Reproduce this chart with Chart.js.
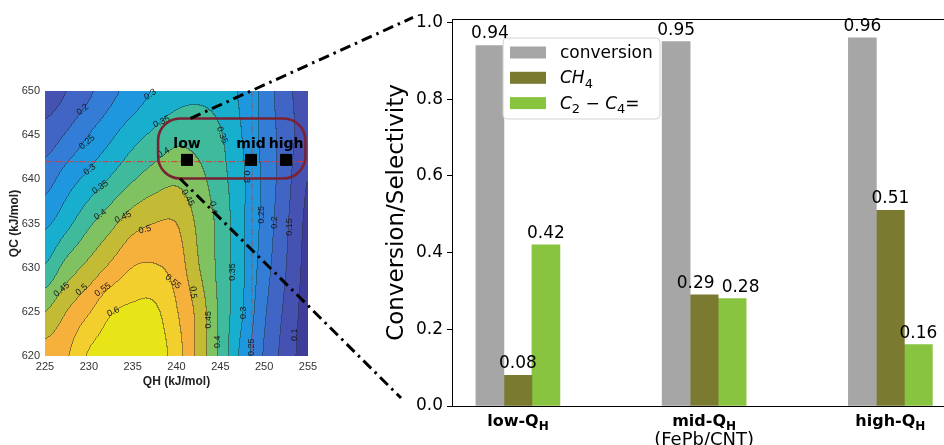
<!DOCTYPE html>
<html>
<head>
<meta charset="utf-8">
<script src="https://cdn.jsdelivr.net/npm/chart.js@4.4.1/dist/chart.umd.min.js"></script>
<style>
  html, body { margin: 0; padding: 0; background: #fff; }
  #wrap { position: relative; width: 944px; height: 445px; overflow: hidden; }
  #mapBox { position: absolute; left: 0; top: 0; width: 360px; height: 445px; }
  #barBox { position: absolute; left: 360px; top: 0; width: 584px; height: 445px; }
  #overlay { position: absolute; left: 0; top: 0; pointer-events: none; }
</style>
</head>
<body>
<div id="wrap">
  <div id="mapBox"><canvas id="mapChart"></canvas></div>
  <div id="barBox"><canvas id="barChart"></canvas></div>
  <canvas id="overlay" width="944" height="445"></canvas>
</div>
<script>
// ---- bar chart data ----
const categories = ['low-Q_H', 'mid-Q_H', 'high-Q_H'];
const categoryNotes = ['', '(FePb/CNT)', ''];
const seriesNames = ['conversion', 'CH_4', 'C_2 − C_4='];
const conversion = [0.94, 0.95, 0.96];
const ch4Selectivity = [0.08, 0.29, 0.51];
const c2c4Selectivity = [0.42, 0.28, 0.16];
const yTicks = [0, 0.2, 0.4, 0.6, 0.8, 1.0];

// ---- contour map data (QH x QC grid) ----
const qhGrid = [225, 227.5, 230, 232.5, 235, 237.5, 240, 242.5, 245, 247.5, 250, 252.5, 255];
const qcGrid = [620, 625, 630, 635, 640, 645, 650];
const mapValues = [
  [0.52, 0.545, 0.605, 0.625, 0.635, 0.63, 0.575, 0.485, 0.39, 0.285, 0.197, 0.13, 0.075],
  [0.45, 0.50, 0.545, 0.595, 0.61, 0.61, 0.555, 0.485, 0.39, 0.305, 0.21, 0.14, 0.08],
  [0.355, 0.42, 0.465, 0.51, 0.55, 0.555, 0.53, 0.455, 0.385, 0.31, 0.225, 0.152, 0.085],
  [0.29, 0.335, 0.39, 0.435, 0.48, 0.50, 0.50, 0.44, 0.385, 0.31, 0.235, 0.16, 0.09],
  [0.228, 0.275, 0.315, 0.355, 0.395, 0.425, 0.44, 0.415, 0.37, 0.31, 0.24, 0.17, 0.10],
  [0.17, 0.205, 0.25, 0.29, 0.33, 0.36, 0.385, 0.38, 0.355, 0.30, 0.235, 0.175, 0.12],
  [0.12, 0.15, 0.19, 0.235, 0.27, 0.305, 0.33, 0.34, 0.33, 0.29, 0.235, 0.165, 0.13]
];
const contourLevels = [0.1, 0.15, 0.2, 0.25, 0.3, 0.35, 0.4, 0.45, 0.5, 0.55, 0.6];
const qhTicks = [225, 230, 235, 240, 245, 250, 255];
const qcTicks = [620, 625, 630, 635, 640, 645, 650];
const markerNames = ['low', 'mid', 'high'];
const markerQH = [241.2, 248.5, 252.5];
const markerQC = [642.2, 642.2, 642.2];
const selectedQH = 248.6;
const selectedQC = 642;
// contour labels: [QH, QC, text, angle]
const contourLabels = [
  [237.0, 649.6, '0.3', -35], [229.3, 647.9, '0.2', -40], [238.3, 646.5, '0.35', -25],
  [229.8, 644.2, '0.25', -40], [238.5, 643.0, '0.4', -30], [245.2, 645.0, '0.35', 70],
  [230.1, 641.1, '0.3', -38], [248.0, 640.3, '0.3', 90], [231.3, 639.1, '0.35', -35],
  [241.3, 637.9, '0.45', 60], [244.2, 636.8, '0.4', 80], [231.3, 636.0, '0.4', -35],
  [233.9, 635.7, '0.45', -25], [249.7, 636.0, '0.25', -90], [251.2, 635.1, '0.2', -90],
  [252.9, 634.6, '0.15', -90], [236.4, 634.3, '0.5', -12], [246.4, 629.5, '0.35', -90],
  [239.6, 628.4, '0.55', 40], [241.9, 627.2, '0.5', 85], [226.9, 627.5, '0.45', -40],
  [229.2, 627.5, '0.5', -40], [231.6, 627.5, '0.55', -35], [232.8, 625.0, '0.6', -25],
  [247.6, 624.9, '0.3', -90], [243.6, 624.1, '0.45', -90], [253.5, 622.4, '0.1', -90],
  [244.7, 621.6, '0.4', -90], [248.6, 621.0, '0.25', -90]
];

const bandColors = ['#3f3d9b', '#4652b1', '#4065c5', '#337dd6', '#1e97df', '#18afcf',
  '#3fba9c', '#80c262', '#c3ba35', '#f5b13c', '#f3cf2e', '#e7e418'];
const barColors = ['#a6a6a6', '#7a7a31', '#88c440'];
const FONT = '"DejaVu Sans"';
const MFONT = '"Liberation Sans"';

// rich text: '_x' makes x a subscript
function richParts(label, size, bold, italic) {
  const parts = [];
  for (let i = 0; i < label.length; i++) {
    const ch = label[i];
    if (ch === '_') {
      parts.push({ t: label[i + 1], sub: true });
      i++;
    } else {
      parts.push({ t: ch, sub: false });
    }
  }
  return parts.map(p => {
    const sz = p.sub ? Math.round(size * 0.74) : size;
    const it = italic && /[A-Za-z]/.test(p.t) ? 'italic ' : '';
    return { t: p.t, font: it + (bold ? 'bold ' : '') + sz + 'px ' + FONT, dy: p.sub ? size * 0.26 : 0 };
  });
}
function richWidth(ctx, parts) {
  let w = 0;
  parts.forEach(p => { ctx.font = p.font; w += ctx.measureText(p.t).width; });
  return w;
}
function drawRich(ctx, parts, x, y) {
  ctx.textAlign = 'left';
  ctx.textBaseline = 'alphabetic';
  parts.forEach(p => {
    ctx.font = p.font;
    ctx.fillText(p.t, x, y + p.dy);
    x += ctx.measureText(p.t).width;
  });
}

// Catmull-Rom interpolation of the grid
function cubic(p0, p1, p2, p3, t) {
  return p1 + 0.5 * t * (p2 - p0 + t * (2 * p0 - 5 * p1 + 4 * p2 - p3 + t * (3 * (p1 - p2) + p3 - p0)));
}
function fieldAt(qh, qc) {
  const fx = (qh - qhGrid[0]) / (qhGrid[1] - qhGrid[0]);
  const fy = (qc - qcGrid[0]) / (qcGrid[1] - qcGrid[0]);
  const ix = Math.max(0, Math.min(Math.floor(fx), qhGrid.length - 2));
  const iy = Math.max(0, Math.min(Math.floor(fy), qcGrid.length - 2));
  const tx = fx - ix, ty = fy - iy;
  const row = r => {
    const R = mapValues[Math.max(0, Math.min(qcGrid.length - 1, r))];
    const g = c => R[Math.max(0, Math.min(R.length - 1, c))];
    return cubic(g(ix - 1), g(ix), g(ix + 1), g(ix + 2), tx);
  };
  return cubic(row(iy - 1), row(iy), row(iy + 1), row(iy + 2), ty);
}
function hexRgb(h) {
  return [parseInt(h.slice(1, 3), 16), parseInt(h.slice(3, 5), 16), parseInt(h.slice(5, 7), 16)];
}

const contourPlugin = {
  id: 'contourField',
  beforeDatasetsDraw(chart) {
    const { ctx, chartArea: a, scales: { x, y } } = chart;
    const w = Math.round(a.right - a.left), h = Math.round(a.bottom - a.top);
    const off = document.createElement('canvas');
    off.width = w; off.height = h;
    const octx = off.getContext('2d');
    const img = octx.createImageData(w, h);
    const bands = new Int16Array(w * h);
    for (let j = 0; j < h; j++) {
      const qc = y.getValueForPixel(a.top + j + 0.5);
      for (let i = 0; i < w; i++) {
        const v = fieldAt(x.getValueForPixel(a.left + i + 0.5), qc);
        let b = 0;
        while (b < contourLevels.length && v >= contourLevels[b]) b++;
        bands[j * w + i] = b;
      }
    }
    const rgb = bandColors.map(hexRgb);
    for (let j = 0; j < h; j++) {
      for (let i = 0; i < w; i++) {
        const k = j * w + i;
        const c = rgb[bands[k]];
        const edge = (i < w - 1 && bands[k + 1] !== bands[k]) || (j < h - 1 && bands[k + w] !== bands[k]);
        const f = edge ? 0.55 : 1;
        img.data[k * 4] = c[0] * f + 30 * (1 - f);
        img.data[k * 4 + 1] = c[1] * f + 30 * (1 - f);
        img.data[k * 4 + 2] = c[2] * f + 30 * (1 - f);
        img.data[k * 4 + 3] = 255;
      }
    }
    octx.putImageData(img, 0, 0);
    ctx.drawImage(off, a.left, a.top);

    ctx.save();
    // contour labels
    ctx.fillStyle = '#1a1a1a';
    ctx.font = '9px ' + MFONT;
    ctx.textAlign = 'center';
    ctx.textBaseline = 'middle';
    contourLabels.forEach(([qh, qc, t, ang]) => {
      ctx.save();
      ctx.translate(x.getPixelForValue(qh), y.getPixelForValue(qc));
      ctx.rotate(ang * Math.PI / 180);
      ctx.fillText(t, 0, 0);
      ctx.restore();
    });
    // red dash-dot guide lines
    ctx.strokeStyle = '#d83a3a';
    ctx.lineWidth = 1;
    ctx.setLineDash([6, 2, 1.5, 2]);
    const gy = y.getPixelForValue(selectedQC), gx = x.getPixelForValue(selectedQH);
    ctx.beginPath();
    ctx.moveTo(a.left, gy); ctx.lineTo(a.right, gy);
    ctx.moveTo(gx, a.top); ctx.lineTo(gx, a.bottom);
    ctx.stroke();
    ctx.restore();
  },
  afterDatasetsDraw(chart) {
    const { ctx, scales: { x, y } } = chart;
    ctx.save();
    // rounded selection box
    const x0 = x.getPixelForValue(237.9), x1 = x.getPixelForValue(254.7);
    const y0 = y.getPixelForValue(646.9), y1 = y.getPixelForValue(640.1);
    const r = 22;
    ctx.strokeStyle = '#7a2232';
    ctx.lineWidth = 2.5;
    ctx.beginPath();
    ctx.moveTo(x0 + r, y0);
    ctx.arcTo(x1, y0, x1, y1, r);
    ctx.arcTo(x1, y1, x0, y1, r);
    ctx.arcTo(x0, y1, x0, y0, r);
    ctx.arcTo(x0, y0, x1, y0, r);
    ctx.closePath();
    ctx.stroke();
    // marker names
    ctx.fillStyle = '#000';
    ctx.font = 'bold 14px ' + FONT;
    ctx.textAlign = 'center';
    ctx.textBaseline = 'alphabetic';
    markerNames.forEach((n, i) => {
      ctx.fillText(n, x.getPixelForValue(markerQH[i]), y.getPixelForValue(markerQC[i]) - 12);
    });
    ctx.restore();
  }
};

const mapChart = new Chart(document.getElementById('mapChart'), {
  type: 'scatter',
  data: {
    datasets: [{
      data: markerQH.map((q, i) => ({ x: q, y: markerQC[i] })),
      pointStyle: 'rect',
      radius: 8.5,
      backgroundColor: '#000',
      borderWidth: 0
    }]
  },
  options: {
    animation: false,
    responsive: true,
    maintainAspectRatio: false,
    layout: { padding: { top: 91, right: 52, left: 0, bottom: 0 } },
    plugins: { legend: { display: false }, tooltip: { enabled: false } },
    scales: {
      x: {
        type: 'linear', min: 225, max: 255,
        afterBuildTicks: s => { s.ticks = qhTicks.map(v => ({ value: v })); },
        afterFit: s => { s.height = 89; },
        grid: { display: false, drawTicks: false },
        border: { display: false },
        ticks: { font: { family: 'Liberation Sans', size: 11 }, color: '#333', padding: 4 },
        title: { display: true, text: 'QH (kJ/mol)', color: '#222',
          font: { family: 'Liberation Sans', size: 12, weight: 'bold' }, padding: { top: 0, bottom: 56 } }
      },
      y: {
        type: 'linear', min: 620, max: 650,
        afterBuildTicks: s => { s.ticks = qcTicks.map(v => ({ value: v })); },
        afterFit: s => { s.width = 45; },
        grid: { display: false, drawTicks: false },
        border: { display: false },
        ticks: { font: { family: 'Liberation Sans', size: 11 }, color: '#333', padding: 5 },
        title: { display: true, text: 'QC (kJ/mol)', color: '#222',
          font: { family: 'Liberation Sans', size: 12, weight: 'bold' }, padding: { top: 7, bottom: 0 } }
      }
    }
  },
  plugins: [contourPlugin]
});

const barDecor = {
  id: 'barDecor',
  afterDraw(chart) {
    const { ctx, chartArea: a, scales: { x } } = chart;
    ctx.save();
    // top spine
    ctx.strokeStyle = '#000';
    ctx.lineWidth = 1;
    ctx.beginPath();
    ctx.moveTo(a.left, a.top + 0.5); ctx.lineTo(a.right, a.top + 0.5);
    ctx.stroke();
    // value labels, nudged apart where neighbours would collide
    ctx.fillStyle = '#000';
    ctx.font = '17px ' + FONT;
    ctx.textAlign = 'center';
    ctx.textBaseline = 'alphabetic';
    categories.forEach((c, i) => {
      const labels = chart.data.datasets.map((ds, di) => {
        const bar = chart.getDatasetMeta(di).data[i];
        const t = ds.data[i].y.toFixed(2);
        return { t, x: bar.x, y: bar.y - 7, w: ctx.measureText(t).width };
      });
      for (let k = 1; k < labels.length; k++) {
        const p = labels[k - 1], q = labels[k];
        const overlap = (p.x + p.w / 2 + 7) - (q.x - q.w / 2);
        if (Math.abs(p.y - q.y) < 16 && overlap > 0) {
          p.x -= overlap / 2;
          q.x += overlap / 2;
        }
      }
      labels.forEach(l => ctx.fillText(l.t, l.x, l.y));
    });
    // category labels
    categories.forEach((c, i) => {
      const cx = x.getPixelForValue(i);
      const parts = richParts(c, 16, true, false);
      drawRich(ctx, parts, cx - richWidth(ctx, parts) / 2, a.bottom + 20);
      if (categoryNotes[i]) {
        ctx.font = '18px ' + FONT;
        ctx.textAlign = 'center';
        ctx.fillText(categoryNotes[i], cx, a.bottom + 39);
      }
    });
    // legend
    const lx = a.left + 51, ly = a.top + 19, lw = 157, lh = 81, r = 4;
    ctx.fillStyle = 'rgba(255,255,255,0.85)';
    ctx.strokeStyle = '#d4d4d4';
    ctx.beginPath();
    ctx.moveTo(lx + r, ly);
    ctx.arcTo(lx + lw, ly, lx + lw, ly + lh, r);
    ctx.arcTo(lx + lw, ly + lh, lx, ly + lh, r);
    ctx.arcTo(lx, ly + lh, lx, ly, r);
    ctx.arcTo(lx, ly, lx + lw, ly, r);
    ctx.closePath();
    ctx.fill();
    ctx.stroke();
    seriesNames.forEach((n, i) => {
      const cy = ly + 14.5 + i * 25.3;
      ctx.fillStyle = barColors[i];
      ctx.fillRect(lx + 7, cy - 6, 36, 12);
      ctx.fillStyle = '#000';
      drawRich(ctx, richParts(n, 17, false, i > 0), lx + 57, cy + 5.5);
    });
    ctx.restore();
  }
};

const seriesData = [conversion, ch4Selectivity, c2c4Selectivity];
const barChart = new Chart(document.getElementById('barChart'), {
  type: 'bar',
  data: {
    datasets: seriesData.map((vals, i) => ({
      label: seriesNames[i],
      data: vals.map((v, j) => ({ x: j, y: v })),
      backgroundColor: barColors[i],
      borderWidth: 0,
      barThickness: 28
    }))
  },
  options: {
    animation: false,
    responsive: true,
    maintainAspectRatio: false,
    layout: { padding: { top: 19, right: 0, left: 0, bottom: 0 } },
    plugins: { legend: { display: false }, tooltip: { enabled: false } },
    scales: {
      x: {
        type: 'linear', min: -0.354, max: 2.288, offset: false,
        afterBuildTicks: s => { s.ticks = categories.map((c, i) => ({ value: i })); },
        afterFit: s => { s.height = 39; },
        grid: { display: false, drawTicks: false },
        border: { display: true, color: '#000', width: 1 },
        ticks: { display: false }
      },
      y: {
        min: 0, max: 1.009,
        afterBuildTicks: s => { s.ticks = yTicks.map(v => ({ value: v })); },
        afterFit: s => { s.width = 92; },
        grid: { drawOnChartArea: false, drawTicks: true, tickLength: 5, color: '#000' },
        border: { display: true, color: '#000', width: 1 },
        ticks: { font: { family: 'DejaVu Sans', size: 17 }, color: '#000', padding: 4,
          callback: v => v.toFixed(1) },
        title: { display: true, text: 'Conversion/Selectivity', color: '#000',
          font: { family: 'DejaVu Sans', size: 23 }, padding: { top: 23, bottom: 0 } }
      }
    }
  },
  plugins: [barDecor]
});

// dash-dot connectors from the selection box to the bar chart
function drawConnectors() {
  const ov = document.getElementById('overlay');
  const ctx = ov.getContext('2d');
  ctx.clearRect(0, 0, ov.width, ov.height);
  const mx = mapChart.scales.x, my = mapChart.scales.y;
  const by = barChart.scales.y, ba = barChart.chartArea;
  const barLeft = document.getElementById('barBox').offsetLeft;
  const starts = [[mx.getPixelForValue(241.6), my.getPixelForValue(646.9)],
                  [mx.getPixelForValue(240.4), my.getPixelForValue(640.1)]];
  const ends = [[barLeft + ba.left - 39, by.getPixelForValue(1.0) - 5],
                [barLeft + ba.left - 51, by.getPixelForValue(0) - 8]];
  ctx.strokeStyle = '#000';
  ctx.lineWidth = 3;
  ctx.setLineDash([11, 5, 2.5, 5]);
  for (let i = 0; i < 2; i++) {
    ctx.beginPath();
    ctx.moveTo(starts[i][0], starts[i][1]);
    ctx.lineTo(ends[i][0], ends[i][1]);
    ctx.stroke();
  }
}
drawConnectors();
window.addEventListener('load', drawConnectors);
</script>
</body>
</html>
